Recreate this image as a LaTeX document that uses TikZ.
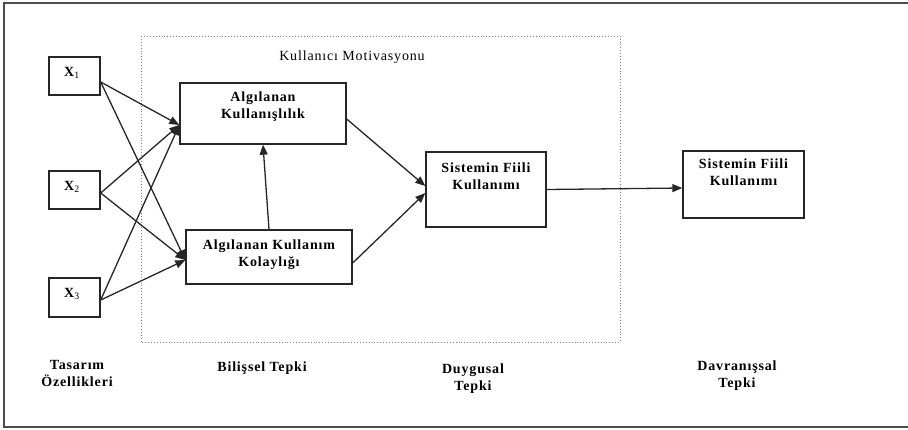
\documentclass[tikz,border=0pt]{standalone}
\usepackage{fontspec}
\setmainfont{Liberation Serif}[LetterSpace=6]
\usetikzlibrary{arrows.meta,calc}
\begin{document}
\begin{tikzpicture}[x=1pt,y=-1pt,
  font=\fontsize{14}{17}\selectfont,
  box/.style={draw=black!85,line width=1.4pt,rectangle,inner sep=0pt},
  lbl/.style={align=center,inner sep=0pt,font=\fontsize{14}{17}\selectfont\bfseries},
  link/.style={draw=black!85,line width=1.3pt,-{Triangle[length=10pt,width=8pt]}}]
  \useasboundingbox (0,0) rectangle (908,429);
  % outer frame (open on the right side)
  \draw[black!70,line width=2pt] (925,2.5) -- (3.5,2.5) -- (3.5,426.5) -- (925,426.5);
  % user motivation area
  \draw[black!50,dotted,line width=0.9pt] (141,36) rectangle (620,342);
  \node[inner sep=0pt] (motiv) at (352,57) {Kullanıcı Motivasyonu};

  % design features
  \node[box,minimum width=51pt,minimum height=38pt] (x1) at (74.5,76) {};
  \node[box,minimum width=51pt,minimum height=38pt] (x2) at (74.5,190) {};
  \node[box,minimum width=51pt,minimum height=39pt] (x3) at (74.5,297.5) {};
  \node[lbl] (x1t) at (72,73) {X\textsubscript{\mdseries 1}};
  \node[lbl] (x2t) at (72,187) {X\textsubscript{\mdseries 2}};
  \node[lbl] (x3t) at (72,294) {X\textsubscript{\mdseries 3}};

  % cognitive response
  \node[box,minimum width=166pt,minimum height=61pt] (pu) at (263,113.5) {};
  \node[lbl] (put) at (263,107) {Algılanan\\Kullanışlılık};
  \node[box,minimum width=166pt,minimum height=54pt] (peou) at (269,257) {};
  \node[lbl] (peout) at (269,255) {Algılanan Kullanım\\Kolaylığı};

  % affective and behavioural response
  \node[box,minimum width=120pt,minimum height=75pt] (use1) at (486,189.5) {};
  \node[lbl] (use1t) at (486,176) {Sistemin Fiili\\Kullanımı};
  \node[box,minimum width=121pt,minimum height=67pt] (use2) at (743.5,184.5) {};
  \node[lbl] (use2t) at (743.5,172) {Sistemin Fiili\\Kullanımı};

  % column captions
  \node[lbl] (c1) at (77,373) {Tasarım\\Özellikleri};
  \node[lbl] (c2) at (262,368) {Bilişsel Tepki};
  \node[lbl] (c3) at (473,379) {Duygusal\\Tepki};
  \node[lbl] (c4) at (737,376) {Davranışsal\\Tepki};

  % connectors
  \foreach \src/\dy in {x1/-6,x2/-3,x3/-2.5}{
    \draw[link] ([yshift=\dy pt]\src.east) -- ([yshift=-11.5pt]pu.west);
    \draw[link] ([yshift=\dy pt]\src.east) -- ([yshift=-3pt]peou.west);
  }
  \draw[link] (peou.north) -- (pu.south);
  \draw[link] ([yshift=-5.5pt]pu.east) -- ([yshift=3.5pt]use1.west);
  \draw[link] ([yshift=-6pt]peou.east) -- ([yshift=-3.5pt]use1.west);
  \draw[link] (use1.east) -- ([yshift=-3.5pt]use2.west);
\end{tikzpicture}
\end{document}
